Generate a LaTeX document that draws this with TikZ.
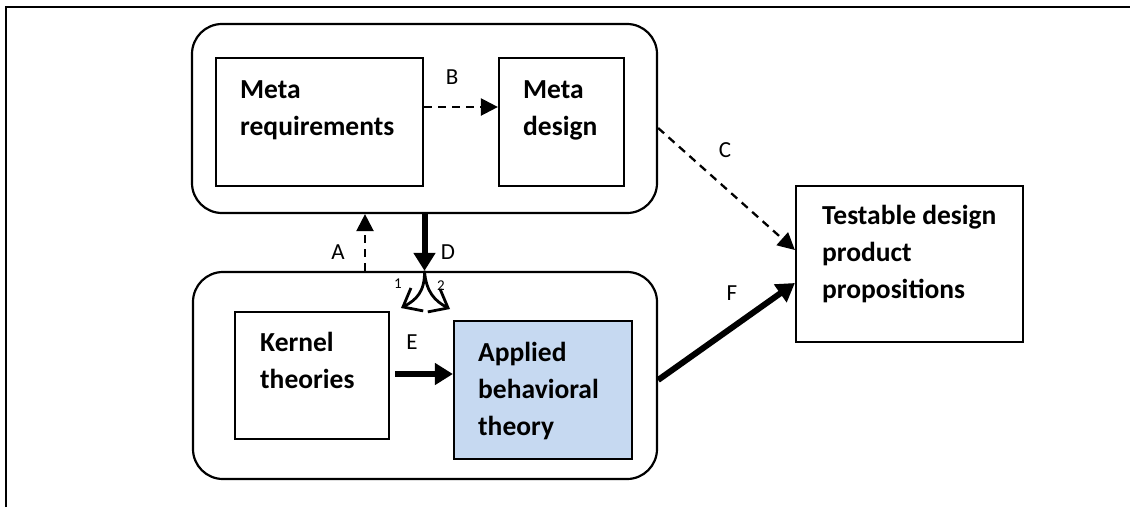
\documentclass[tikz,border=0pt]{standalone}
\usepackage{fontspec}
\setmainfont{Carlito}
\usetikzlibrary{arrows.meta}
\definecolor{appblue}{RGB}{198,217,241}
\begin{document}
\begin{tikzpicture}[x=1pt,y=-1pt,
  container/.style={draw,line width=2.2pt,rounded corners=30pt,inner sep=0pt},
  boxnode/.style={draw,line width=2.2pt,inner sep=0pt},
  boxtext/.style={anchor=base west,align=left,inner sep=0pt,font=\fontsize{27.5}{37}\selectfont\bfseries},
  lab/.style={font=\fontsize{23}{27}\selectfont,inner sep=0pt},
  smalllab/.style={font=\fontsize{15}{17}\selectfont,inner sep=0pt},
  dasharrow/.style={line width=2.3pt,dash pattern=on 8pt off 6pt,-{Triangle[length=17pt,width=17pt]}},
  thickarrow/.style={line width=6pt,-{Triangle[length=18pt,width=21pt]}},
  splitarrow/.style={line width=2.8pt,-{Straight Barb[length=16pt,width=26pt,line width=2.8pt]}}
]
\useasboundingbox (0,0) rectangle (1135,507);
% outer frame (top and left edges)
\draw[line width=2.5pt] (6,507) -- (6,7) -- (1130,7);

% containers
\node[container,minimum width=465pt,minimum height=189pt] (topc) at (424.5,118.5) {};
\node[container,minimum width=464pt,minimum height=207pt] (botc) at (425,375.5) {};

% boxes
\node[boxnode,minimum width=207pt,minimum height=128pt] (metareq) at (319.5,122) {};
\node[boxnode,minimum width=125pt,minimum height=128pt] (metades) at (561.5,122) {};
\node[boxnode,minimum width=154pt,minimum height=127pt] (kernel) at (312,375.5) {};
\node[boxnode,fill=appblue,minimum width=178pt,minimum height=138pt] (applied) at (543,390) {};
\node[boxnode,minimum width=227pt,minimum height=156pt] (testable) at (909.5,264) {};

% box texts (anchored at the baseline of the last line)
\node[boxtext] (tmetareq) at (240,135) {Meta\\requirements};
\node[boxtext] (tmetades) at (523,135) {Meta\\design};
\node[boxtext] (tkernel) at (260,388) {Kernel\\theories};
\node[boxtext] (tapplied) at (478,435) {Applied\\behavioral\\theory};
\node[boxtext] (ttestable) at (822,298) {Testable design\\product\\propositions};

% connectors
\coordinate (ax) at (365,0);
\draw[dasharrow] (ax |- botc.north) -- (ax |- topc.south);
\draw[thickarrow] (topc.south) -- (topc.south |- botc.north);
\draw[dasharrow] ([yshift=15pt]metareq.east) -- ([yshift=15pt]metareq.east -| metades.west);
\draw[dasharrow] ([yshift=-9.5pt]topc.east) -- ([yshift=14pt]testable.west);
\draw[thickarrow] ([xshift=5pt,yshift=1.5pt]kernel.east) -- ([yshift=1.5pt]kernel.east -| applied.west);
\draw[thickarrow] ([yshift=-4.5pt]botc.east) -- ([yshift=-19pt]testable.west);

% split arrows
\coordinate (sp) at (topc.south |- botc.north);
\coordinate (sl) at (401,308);
\coordinate (sr) at (450,309);
\draw[splitarrow] (sp) .. controls (425,292) and (416,300) .. (sl);
\draw[splitarrow] (sp) .. controls (426,292) and (435,301) .. (sr);

% labels
\node[lab] (la) at (338,252) {A};
\node[lab] (ld) at (448,252) {D};
\node[lab] (lb) at (452,77) {B};
\node[lab] (lc) at (725,150) {C};
\node[lab] (le) at (412,342) {E};
\node[lab] (lf) at (732,293) {F};
\node[smalllab] (l1) at (398,284) {1};
\node[smalllab] (l2) at (441,286) {2};
\end{tikzpicture}
\end{document}
